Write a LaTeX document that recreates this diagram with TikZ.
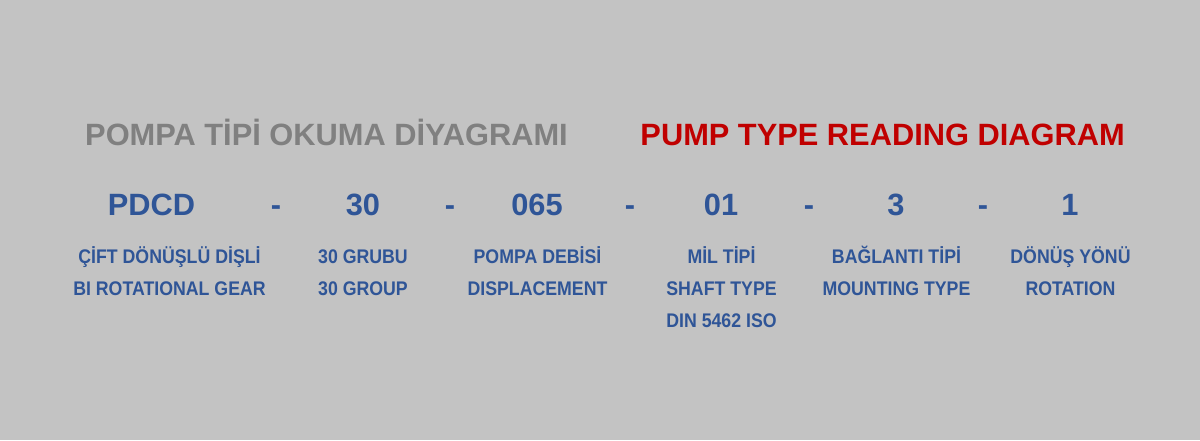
\documentclass[tikz,border=0pt]{standalone}
\usepackage{fontspec}
\setmainfont{Liberation Sans}
\newfontfamily\narrowfont[FakeStretch=0.9]{Liberation Sans}
\definecolor{bgc}{HTML}{C3C3C3}
\definecolor{grayt}{HTML}{808080}
\definecolor{redt}{HTML}{C00000}
\definecolor{bluet}{HTML}{2F5597}
\tikzset{
  titletext/.style={anchor=base, inner sep=0pt, font=\fontsize{30.8}{36}\selectfont\bfseries},
  codetext/.style={anchor=base, inner sep=0pt, text=bluet, font=\fontsize{30.8}{36}\selectfont\bfseries},
  sepdash/.style={anchor=base, inner sep=0pt, text=bluet, font=\fontsize{30.8}{36}\selectfont\bfseries},
  lbl/.style={anchor=base, inner sep=0pt, text=bluet, font=\narrowfont\fontsize{19.7}{24}\selectfont\bfseries}
}
\begin{document}
\begin{tikzpicture}[x=1pt,y=-1pt]
\fill[bgc] (0,0) rectangle (1200,440);
\useasboundingbox (0,0) rectangle (1200,440);
% titles
\node[titletext, text=grayt] (t1) at (326.5,145) {POMPA TİPİ OKUMA DİYAGRAMI};
\node[titletext, text=redt] (t2) at (882.6,145) {PUMP TYPE READING DIAGRAM};
% codes
\node[codetext] (c1) at (151.5,215) {PDCD};
\node[sepdash] (d1) at (276,215) {-};
\node[codetext] (c2) at (363,215) {30};
\node[sepdash] (d2) at (450,215) {-};
\node[codetext] (c3) at (537,215) {065};
\node[sepdash] (d3) at (630,215) {-};
\node[codetext] (c4) at (721,215) {01};
\node[sepdash] (d4) at (809,215) {-};
\node[codetext] (c5) at (896,215) {3};
\node[sepdash] (d5) at (983,215) {-};
\node[codetext] (c6) at (1070,215) {1};
% labels
\node[lbl] (l1a) at (169.5,263.3) {ÇİFT DÖNÜŞLÜ DİŞLİ};
\node[lbl] (l1b) at (169.5,295) {BI ROTATIONAL GEAR};
\node[lbl] (l2a) at (363,263.3) {30 GRUBU};
\node[lbl] (l2b) at (363,295) {30 GROUP};
\node[lbl] (l3a) at (537.5,263.3) {POMPA DEBİSİ};
\node[lbl] (l3b) at (537.5,295) {DISPLACEMENT};
\node[lbl] (l4a) at (721.5,263.3) {MİL TİPİ};
\node[lbl] (l4b) at (721.5,295) {SHAFT TYPE};
\node[lbl] (l4c) at (721.5,327.3) {DIN 5462 ISO};
\node[lbl] (l5a) at (896.5,263.3) {BAĞLANTI TİPİ};
\node[lbl] (l5b) at (896.5,295) {MOUNTING TYPE};
\node[lbl] (l6a) at (1070.5,263.3) {DÖNÜŞ YÖNÜ};
\node[lbl] (l6b) at (1070.5,295) {ROTATION};
\end{tikzpicture}
\end{document}
